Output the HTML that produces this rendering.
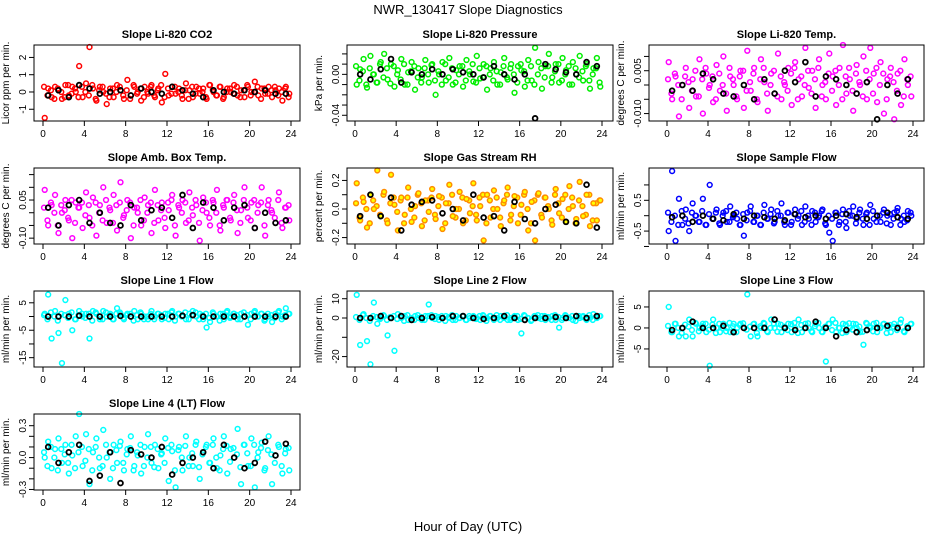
<!DOCTYPE html>
<html><head><meta charset="utf-8"><style>
html,body{margin:0;padding:0;background:#fff;}
svg{display:block;font-family:"Liberation Sans",sans-serif;}
</style></head><body>
<svg id="chart" width="936" height="540" viewBox="0 0 936 540" xmlns="http://www.w3.org/2000/svg">
<text x="468" y="14" text-anchor="middle" font-size="13">NWR_130417  Slope Diagnostics</text>
<text x="468" y="531" text-anchor="middle" font-size="13">Hour of Day (UTC)</text>
</svg>
<script>
const hourTicks = [0,4,8,12,16,20,24];
const co2Vals = [-1.5,0.2,-0.3,0.3,0.1,-0.4,0.4,-0.2,0.3,0.0,1.5,-0.3,0.5,2.6,0.2,-0.5,0.3,0.0,-0.7,0.2,-0.3,0.4,0.1,-0.4,0.7,-0.2,0.3,0.0,-0.5,0.3,-0.1,0.4,-0.3,0.2,-0.6,1.05,-0.2,0.3,-0.1,0.2,-0.4,0.5,0.1,-0.3,0.3,-0.1,0.2,-0.4,0.4,0.0,-0.2,0.3,-0.3,0.2,0.0,0.4,-0.2,0.1,-0.3,0.3,0.0,0.6,-0.2,0.2,-0.1,0.3,-0.3,0.1,0.2,-0.5,0.3,-0.1];
const co2Vals2 = [0.3,-0.2,0.1,-0.4,0.2,0.0,-0.3,0.4,-0.1,0.2,-0.3,0.3,0.0,-0.2,0.4,-0.4,0.1,0.3,-0.1,-0.3,0.2,0.0,0.3,-0.2,0.1,-0.4,0.4,-0.1,0.2,-0.3,0.0,0.3,-0.2,0.1,0.4,-0.3,0.2,-0.1,0.3,0.0,-0.2,0.1,-0.4,0.3,-0.1,0.2,0.0,-0.3,0.4,0.1,-0.2,0.3,-0.4,0.0,0.2,-0.1,0.3,-0.3,0.1,0.4,-0.2,0.0,0.3,-0.4,0.2,-0.1,0.1,0.3,-0.2,0.0,0.2,-0.3];
const co2Black = [-0.2,0.1,-0.3,0.4,0.2,-0.1,0.0,0.1,-0.2,0.2,0.0,-0.1,0.3,0.1,-0.1,-0.3,0.1,0.0,-0.1,0.1,0.0,0.1,-0.1,-0.1];
const presVals = [-0.01,0.005,0.015,-0.013,0.018,0.0,-0.008,0.012,0.02,-0.005,0.01,-0.012,0.004,0.015,-0.01,0.002,0.012,-0.015,0.006,-0.003,0.014,-0.008,0.01,-0.02,0.0,0.012,-0.006,0.016,-0.01,0.004,0.008,-0.012,0.014,0.0,-0.007,0.018,-0.004,0.01,-0.015,0.006,0.012,-0.01,0.002,0.016,-0.005,0.01,-0.018,0.008,0.004,-0.012,0.014,-0.006,0.026,0.012,-0.014,0.008,0.02,-0.003,0.01,-0.008,0.016,0.004,-0.01,0.012,0.0,0.018,-0.006,0.01,-0.014,0.006,0.016,-0.012];
const presVals2 = [0.008,-0.006,0.003,-0.01,0.006,0.0,-0.008,0.01,-0.003,0.006,-0.009,0.008,0.0,-0.005,0.01,-0.01,0.003,0.008,-0.003,-0.008,0.006,0.0,0.009,-0.006,0.003,-0.01,0.01,-0.003,0.006,-0.008,0.0,0.008,-0.006,0.003,0.01,-0.008,0.006,-0.003,0.008,0.0,-0.006,0.003,-0.01,0.008,-0.003,0.006,0.0,-0.008,0.01,0.003,-0.006,0.008,-0.01,0.0,0.006,-0.003,0.008,-0.008,0.003,0.01,-0.006,0.0,0.008,-0.01,0.006,-0.003,0.003,0.008,-0.006,0.0,0.006,-0.008];
const presBlack = [0.0,-0.005,0.005,0.015,-0.008,0.002,0.0,0.005,0.0,0.005,0.002,0.0,-0.003,0.008,0.0,-0.005,0.0,-0.043,0.01,0.005,0.002,0.0,0.012,0.008];
const tempVals = [0.008,-0.005,0.003,-0.011,0.0,0.006,-0.008,0.002,-0.004,0.009,-0.01,0.004,0.0,-0.006,0.007,-0.002,0.01,-0.009,0.003,0.0,-0.005,0.005,-0.008,0.012,-0.002,0.006,-0.006,0.009,0.001,-0.009,0.004,-0.003,0.011,-0.005,0.0,0.006,-0.007,0.008,0.002,-0.004,0.013,-0.001,0.005,-0.008,0.009,0.0,-0.005,0.011,0.003,-0.007,0.006,0.014,-0.003,0.002,-0.009,0.007,0.0,0.01,-0.005,0.013,0.004,-0.006,0.008,-0.01,0.002,0.006,-0.012,0.004,-0.007,0.009,0.0,-0.004];
const tempVals2 = [0.002,-0.003,0.004,0.0,-0.005,0.003,0.001,-0.002,0.005,-0.004,0.002,0.006,-0.001,0.003,-0.005,0.004,0.0,-0.003,0.006,0.002,-0.004,0.003,0.005,-0.002,0.001,0.004,-0.005,0.002,0.006,-0.003,0.0,0.005,-0.004,0.003,0.001,-0.002,0.004,0.006,-0.005,0.003,0.0,0.005,-0.003,0.002,0.006,-0.004,0.001,0.004,-0.002,0.005,0.0,-0.005,0.003,0.006,-0.002,0.004,0.001,-0.004,0.005,0.002,-0.003,0.006,0.0,0.004,-0.005,0.003,0.001,-0.002,0.005,-0.004,0.002,0.003];
const tempBlack = [-0.002,0.0,-0.002,0.004,0.002,-0.003,-0.004,0.0,-0.005,0.002,-0.003,0.005,0.001,0.008,-0.004,0.003,0.002,0.0,-0.003,0.001,-0.012,0.0,-0.003,0.002];
const ambVals = [0.09,-0.05,0.03,0.07,-0.08,0.0,0.05,-0.03,-0.1,0.04,0.02,-0.06,0.08,-0.02,0.06,-0.09,0.03,0.1,-0.04,0.01,0.07,-0.07,0.12,-0.01,0.05,-0.1,0.02,0.0,-0.05,0.06,0.03,-0.08,0.09,-0.03,0.04,-0.06,0.01,0.07,-0.09,0.02,0.05,-0.04,0.08,-0.01,0.03,-0.11,0.06,0.0,-0.05,0.04,0.09,-0.07,0.02,0.05,-0.03,0.07,-0.08,0.01,0.1,-0.02,0.04,-0.06,0.03,0.1,-0.09,0.05,0.0,-0.04,0.08,-0.06,0.02,-0.03];
const ambVals2 = [0.02,-0.03,0.04,0.0,-0.05,0.03,0.01,-0.02,0.05,-0.04,0.02,0.04,-0.01,0.03,-0.05,0.04,0.0,-0.03,0.05,0.02,-0.04,0.03,0.04,-0.02,0.01,0.04,-0.05,0.02,0.05,-0.03,0.0,0.04,-0.04,0.03,0.01,-0.02,0.04,0.05,-0.05,0.03,0.0,0.04,-0.03,0.02,0.05,-0.04,0.01,0.04,-0.02,0.05,0.0,-0.05,0.03,0.05,-0.02,0.04,0.01,-0.04,0.05,0.02,-0.03,0.05,0.0,0.04,-0.05,0.03,0.01,-0.02,0.05,-0.04,0.02,0.03];
const ambBlack = [0.02,-0.05,0.03,0.05,-0.04,0.0,-0.04,-0.05,0.03,-0.03,0.01,0.02,-0.02,0.07,-0.06,0.04,0.02,-0.03,0.02,0.03,-0.06,0.0,-0.04,-0.03];
const rhVals = [0.18,-0.08,0.05,-0.13,0.1,0.0,0.27,-0.05,0.12,-0.1,0.24,0.03,-0.15,0.08,-0.04,0.15,-0.09,0.02,0.11,-0.12,0.06,-0.02,0.14,-0.07,0.09,-0.14,0.04,0.17,-0.05,0.0,0.12,-0.1,0.07,-0.03,0.18,-0.08,0.02,-0.22,0.1,-0.06,0.13,0.0,-0.12,0.06,0.15,-0.04,0.09,-0.1,0.03,0.12,-0.15,0.05,-0.22,0.11,-0.06,0.08,0.0,-0.11,0.14,-0.03,0.07,-0.09,0.16,0.02,-0.07,0.19,-0.05,0.1,-0.12,0.04,-0.08,0.06];
const rhVals2 = [0.04,-0.06,0.08,0.0,-0.1,0.06,0.02,-0.04,0.1,-0.08,0.04,0.08,-0.02,0.06,-0.1,0.08,0.0,-0.06,0.1,0.04,-0.08,0.06,0.08,-0.04,0.02,0.08,-0.1,0.04,0.1,-0.06,0.0,0.08,-0.08,0.06,0.02,-0.04,0.08,0.1,-0.1,0.06,0.0,0.08,-0.06,0.04,0.1,-0.08,0.02,0.08,-0.04,0.1,0.0,-0.1,0.06,0.1,-0.04,0.08,0.02,-0.08,0.1,0.04,-0.06,0.1,0.0,0.08,-0.1,0.06,0.02,-0.04,0.1,-0.08,0.04,0.06];
const rhBlack = [-0.05,0.1,-0.05,0.08,-0.15,0.03,0.05,0.06,-0.03,0.0,-0.08,0.1,-0.06,-0.05,-0.15,0.05,-0.07,-0.1,0.0,0.03,-0.09,-0.1,0.17,-0.13];
const sampleVals = [-0.5,1.45,-0.82,0.55,-0.3,0.2,-0.5,0.4,0.0,-0.2,0.55,-0.3,1.0,-0.1,0.2,-0.3,0.1,-0.2,0.3,0.0,-0.1,-0.3,-0.65,0.1,0.3,-0.2,0.0,-0.3,0.35,-0.1,0.2,-0.2,0.0,0.4,-0.3,0.1,-0.2,0.2,0.0,-0.3,0.3,-0.1,0.15,-0.2,0.0,0.2,-0.3,-0.55,-0.82,0.1,-0.2,0.2,-0.4,0.0,0.3,-0.1,0.2,-0.3,0.1,0.35,-0.1,0.0,-0.2,0.2,0.0,-0.3,0.1,0.25,-0.1,-0.2,0.15,0.0];
const sampleVals2 = [0.1,-0.2,0.0,-0.3,0.15,-0.1,-0.25,0.1,0.0,-0.2,0.15,-0.3,0.05,-0.1,0.1,-0.25,0.0,0.15,-0.2,-0.05,0.1,-0.3,0.05,-0.15,0.15,-0.2,0.0,-0.3,0.1,-0.1,0.05,-0.25,0.15,0.0,-0.2,0.1,-0.3,0.05,-0.1,0.15,-0.2,0.0,-0.3,0.1,-0.05,0.15,-0.25,0.0,-0.1,0.1,-0.3,0.05,-0.2,0.15,0.0,-0.25,0.1,-0.1,0.05,-0.3,0.15,-0.2,0.0,0.1,-0.25,0.05,-0.1,0.15,-0.3,0.0,-0.15,0.1];
const sampleBlack = [-0.05,0.0,-0.2,0.0,-0.1,-0.15,0.05,-0.1,0.0,-0.05,-0.1,-0.15,0.05,-0.05,0.0,-0.1,0.0,0.05,-0.05,-0.1,0.0,0.1,-0.05,-0.1];
const line1Vals = [1,8,-8,2,-6,-17,6,1,-5,-1,2,0,1,-8,2,1,-1,2,0,1,-1,3,1,-1,1,0,2,-1,1,0,-1,2,0,1,-1,1,-1,2,0,1,0,-1,1,2,0,1,-1,-4,-2,1,0,1,-1,2,0,1,-1,1,0,-3,1,2,0,1,-1,0,-2,1,2,0,3,1];
const line1Vals2 = [0.5,-1,1.5,0,-1.5,1,0.5,-0.5,1.5,-1,0.5,1,-0.5,1,-1.5,1.5,0,-1,1.5,0.5,-1,1,1.5,-0.5,0.5,1,-1.5,0.5,1.5,-1,0,1,-1,1,0.5,-0.5,1,1.5,-1.5,1,0,1.5,-1,0.5,1.5,-1,0.5,1,-0.5,1.5,0,-1.5,1,1.5,-0.5,1,0.5,-1,1.5,0.5,-1,1.5,0,1,-1.5,1,0.5,-0.5,1.5,-1,0.5,1];
const line1Black = [0,0,0,0.3,0,0,0,0.2,0,0,0,0,0,0.3,0.5,0,0,0,0,0,0,0,0,0];
const line2Vals = [12,-14,2,-12,-24,8,-3,0,1,-9,0,-17,2,0,1,-1,0,1,0,-1,1,7,0,1,-1,0,1,0,-1,1,0,1,-1,0,1,0,-1,1,0,1,-1,0,1,0,-1,0,1,-1,-8,1,0,-1,1,0,1,-1,0,1,-1,-5,0,1,0,-1,1,0,1,-1,0,2,0,1];
const line2Vals2 = [0.5,-1,1.5,0,-1.5,1,0.5,-0.5,1.5,-1,0.5,1,-0.5,1,-1.5,1.5,0,-1,1.5,0.5,-1,1,1.5,-0.5,0.5,1,-1.5,0.5,1.5,-1,0,1,-1,1,0.5,-0.5,1,1.5,-1.5,1,0,1.5,-1,0.5,1.5,-1,0.5,1,-0.5,1.5,0,-1.5,1,1.5,-0.5,1,0.5,-1,1.5,0.5,-1,1.5,0,1,-1.5,1,0.5,-0.5,1.5,-1,0.5,1];
const line2Black = [0,0,1,0,1,-1,0,0.5,0,1,1,0,-0.5,0,1,0,-1,0,0,0.5,0,1,0,1];
const line3Vals = [5,-1,1,-2,0,-2,2,-2,1,0,1,-1,-9,2,0,-1,1,0,-1,1,0,1,0,8,-2,1,-2,0,1,-1,2,0,1,-1,0,1,-1,0,2,-1,1,0,-1,1,0,-1,-8,1,2,-1,0,1,-1,0,1,0,-1,-4,1,0,1,-1,0,1,0,-1,1,0,2,-1,0,1];
const line3Vals2 = [0.5,-1,1,0,-1.2,0.8,0.3,-0.5,1.2,-0.8,0.4,1,-0.4,0.8,-1.2,1,0,-0.8,1.2,0.4,-1,0.7,1.1,-0.4,0.3,0.9,-1.2,0.4,1.2,-0.8,0,1,-0.9,0.8,0.3,-0.5,0.9,1.2,-1.2,0.7,0,1.1,-0.8,0.4,1.2,-0.9,0.3,1,-0.5,1.2,0,-1.2,0.8,1.1,-0.4,0.9,0.3,-0.9,1.2,0.4,-0.8,1.2,0,0.9,-1.2,0.7,0.3,-0.5,1.2,-0.8,0.4,0.9];
const line3Black = [-0.5,0,1.5,0,0,0.5,-1,0,0,0,2,0,-0.5,0,1.5,0,-2,-0.5,-1,-0.5,0,0.5,0,0];
const line4Vals = [0.0,0.15,-0.1,0.08,0.18,-0.05,0.12,-0.15,0.02,0.2,0.41,-0.08,0.22,-0.25,0.05,0.18,-0.1,0.26,0.0,-0.2,0.12,-0.05,0.15,-0.12,0.08,0.2,-0.08,0.02,-0.15,0.1,0.22,-0.05,0.12,-0.1,0.04,0.18,-0.22,0.06,-0.28,0.1,-0.12,0.2,0.0,-0.08,0.15,-0.2,0.05,0.12,-0.05,0.18,-0.1,0.02,0.2,-0.15,0.08,0.0,0.27,-0.25,0.12,-0.08,0.18,-0.28,0.05,0.14,-0.1,0.2,-0.25,0.02,0.1,-0.15,0.08,-0.12];
const line4Vals2 = [0.05,-0.08,0.1,0.0,-0.12,0.08,0.03,-0.05,0.12,-0.1,0.05,0.1,-0.03,0.08,-0.12,0.1,0.0,-0.08,0.12,0.05,-0.1,0.07,0.11,-0.05,0.03,0.09,-0.12,0.05,0.12,-0.08,0.0,0.1,-0.09,0.08,0.03,-0.05,0.09,0.12,-0.12,0.07,0.0,0.11,-0.08,0.04,0.12,-0.09,0.03,0.1,-0.05,0.12,0.0,-0.12,0.08,0.11,-0.04,0.09,0.03,-0.09,0.12,0.04,-0.08,0.12,0.0,0.09,-0.12,0.07,0.03,-0.05,0.12,-0.08,0.04,0.09];
const line4Black = [0.1,-0.05,0.05,0.12,-0.22,-0.17,0.05,-0.24,0.07,0.03,0.0,0.1,-0.16,-0.05,0.0,0.05,-0.1,0.12,0.0,-0.1,-0.05,0.15,0.02,0.13];

const cols = [{l:34,r:300,x0:43,x24:291},{l:347,r:613,x0:355,x24:602},{l:649,r:924,x0:667,x24:913}];
const rows = [45,168,291,414];
const H = 76;
const panels = [
 {key:'co2',title:'Slope Li-820 CO2',ylab:'Licor ppm per min.',c:0,r:0,ymin:-1.68,ymax:2.72,ticks:[-1,0,1,2],labels:['-1','0','1','2'],col:'#ff0000',fill:'none',vals:co2Vals,vals2:co2Vals2,blk:co2Black},
 {key:'pressure',title:'Slope Li-820 Pressure',ylab:'kPa per min.',c:1,r:0,ymin:-0.0456,ymax:0.0287,ticks:[-0.04,-0.03,-0.02,-0.01,0,0.01,0.02],labels:['-0.04','','','','0.00','',''],col:'#00ee00',fill:'none',vals:presVals,vals2:presVals2,blk:presBlack},
 {key:'temp',title:'Slope Li-820 Temp.',ylab:'degrees C per min.',c:2,r:0,ymin:-0.0126,ymax:0.014,ticks:[-0.01,-0.005,0,0.005,0.01],labels:['-0.010','','','0.005',''],col:'#ff00ff',fill:'none',vals:tempVals,vals2:tempVals2,blk:tempBlack},
 {key:'ambbox',title:'Slope Amb. Box Temp.',ylab:'degrees C per min.',c:0,r:1,ymin:-0.123,ymax:0.176,ticks:[-0.1,-0.05,0,0.05,0.1,0.15],labels:['-0.10','','','0.05','',''],col:'#ff00ff',fill:'none',vals:ambVals,vals2:ambVals2,blk:ambBlack},
 {key:'rh',title:'Slope Gas Stream RH',ylab:'percent per min.',c:1,r:1,ymin:-0.245,ymax:0.287,ticks:[-0.2,-0.1,0,0.1,0.2],labels:['-0.2','','0.0','','0.2'],col:'#ff8c00',fill:'#ffff00',vals:rhVals,vals2:rhVals2,blk:rhBlack},
 {key:'sample',title:'Slope Sample Flow',ylab:'ml/min per min.',c:2,r:1,ymin:-0.92,ymax:1.55,ticks:[-1,-0.5,0,0.5,1],labels:['','-0.5','','0.5',''],col:'#0000ff',fill:'none',vals:sampleVals,vals2:sampleVals2,blk:sampleBlack},
 {key:'line1',title:'Slope Line 1 Flow',ylab:'ml/min per min.',c:0,r:2,ymin:-18.4,ymax:9.3,ticks:[-15,-10,-5,0,5],labels:['-15','','-5','','5'],col:'#00ffff',fill:'none',vals:line1Vals,vals2:line1Vals2,blk:line1Black},
 {key:'line2',title:'Slope Line 2 Flow',ylab:'ml/min per min.',c:1,r:2,ymin:-25.4,ymax:14,ticks:[-20,-10,0,10],labels:['-20','','0','10'],col:'#00ffff',fill:'none',vals:line2Vals,vals2:line2Vals2,blk:line2Black},
 {key:'line3',title:'Slope Line 3 Flow',ylab:'ml/min per min.',c:2,r:2,ymin:-9.3,ymax:8.8,ticks:[-5,0,5],labels:['-5','0','5'],col:'#00ffff',fill:'none',vals:line3Vals,vals2:line3Vals2,blk:line3Black},
 {key:'line4',title:'Slope Line 4 (LT) Flow',ylab:'ml/min per min.',c:0,r:3,ymin:-0.305,ymax:0.41,ticks:[-0.3,-0.2,-0.1,0,0.1,0.2,0.3],labels:['-0.3','','','0.0','','','0.3'],col:'#00ffff',fill:'none',vals:line4Vals,vals2:line4Vals2,blk:line4Black}
];
const NS='http://www.w3.org/2000/svg';
const svg=document.getElementById('chart');
function mk(tag,attrs,parent){const e=document.createElementNS(NS,tag);for(const k in attrs)e.setAttribute(k,attrs[k]);parent.appendChild(e);return e;}
panels.forEach(p=>{
  const C=cols[p.c], top=rows[p.r], bot=top+H;
  const g=mk('g',{},svg);
  
  
  const xs=h=>C.x0+(C.x24-C.x0)*h/24;
  const ys=v=>bot-(v-p.ymin)/(p.ymax-p.ymin)*H;
  const t=mk('text',{x:(C.l+C.r)/2,y:top-7,'text-anchor':'middle','font-size':'11','font-weight':'bold'},g);
  t.textContent=p.title;
  
  
  const yl=mk('text',{transform:`translate(${C.l-25},${(top+bot)/2}) rotate(-90)`,'text-anchor':'middle','font-size':'10'},g);
  yl.textContent=p.ylab;
  
  
  hourTicks.forEach(h=>{
    const x=xs(h);
    const tk=mk('line',{x1:x,x2:x,y1:bot,y2:bot+5,stroke:'#000','stroke-width':1},g);
    
    
    const tl=mk('text',{x:x,y:bot+16,'text-anchor':'middle','font-size':'10'},g);
    tl.textContent=h;
    
    
  });
  p.ticks.forEach((v,i)=>{
    const y=ys(v);
    const tk=mk('line',{x1:C.l-5,x2:C.l,y1:y,y2:y,stroke:'#000','stroke-width':1},g);
    
    
    if(p.labels[i]){
      const tl=mk('text',{transform:`translate(${C.l-8},${y}) rotate(-90)`,'text-anchor':'middle','font-size':'10'},g);
      tl.textContent=p.labels[i];
      
      
    }
  });
  const n2=p.vals2.length;
  p.vals2.forEach((v,i)=>{
    const c=mk('circle',{cx:xs(i*24/n2+0.1),cy:ys(v),r:2.4,fill:p.fill,stroke:p.col,'stroke-width':1.5},g);
    
    
  });
  const n=p.vals.length;
  p.vals.forEach((v,i)=>{
    const c=mk('circle',{cx:xs((i+0.5)*24/n),cy:ys(v),r:2.4,fill:p.fill,stroke:p.col,'stroke-width':1.5},g);
    
    
  });
  const m=p.blk.length;
  p.blk.forEach((v,i)=>{
    const c=mk('circle',{cx:xs((i+0.5)*24/m),cy:ys(v),r:2.4,fill:'none',stroke:'#000','stroke-width':1.8},g);
    
    
  });
  const b=mk('rect',{x:C.l,y:top,width:C.r-C.l,height:H,fill:'none',stroke:'#000','stroke-width':1},g);
  
  
});
</script>
</body></html>
